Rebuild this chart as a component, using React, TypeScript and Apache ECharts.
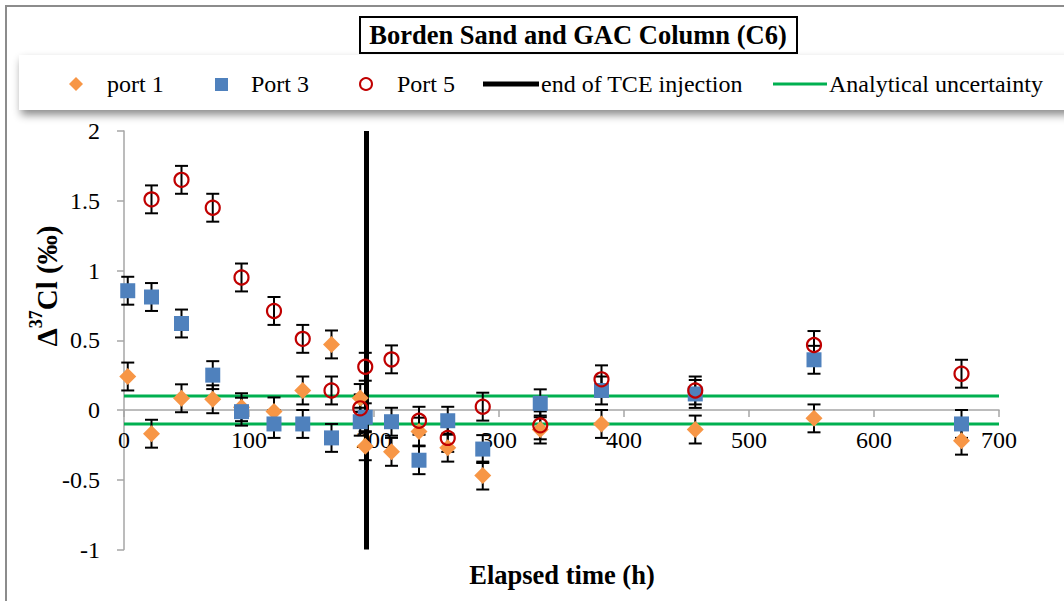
import React, { useEffect, useRef } from "react";
import * as echarts from "echarts";

// Sampling times (h) shared by the three ports
const hours = [3, 22, 46, 71, 94, 120, 143, 166, 189, 193, 214, 236, 259, 287, 333, 382, 457, 552, 670];

// Δ37Cl (‰) per port; null where the port was not sampled
const port1 = [0.24, -0.17, 0.084, 0.077, 0.02, -0.01, 0.14, 0.47, 0.086, -0.26, -0.3, -0.155, -0.27, -0.47, -0.14, -0.1, -0.14, -0.06, -0.22];
const port3 = [0.855, 0.81, 0.62, 0.25, -0.012, -0.1, -0.1, -0.2, -0.084, -0.052, -0.084, -0.36, -0.077, -0.28, 0.048, 0.14, 0.115, 0.36, -0.1];
const port5 = [null, 1.51, 1.65, 1.45, 0.95, 0.71, 0.51, 0.14, 0.012, 0.31, 0.363, -0.077, -0.2, 0.024, -0.11, 0.22, 0.14, 0.466, 0.26];

// Analytical error on each measurement (‰)
const measurementError = 0.1;

// Analytical uncertainty band (‰) and time span it is drawn over (h)
const uncertaintyBand = [0.1, -0.1];
const bandSpan = [0, 700];

// End of TCE injection (h)
const injectionEnd = 194;

// Axis ranges
const yTicks = { min: -1, max: 2, interval: 0.5 };
const xTicks = { min: 0, max: 700, interval: 100 };

const SERIF = "Liberation Serif";
const ORANGE = "#F79646";
const BLUE = "#4F81BD";
const RED = "#C00000";
const GREEN = "#00B050";
const AXIS_GRAY = "#A6A6A6";

const GRID = { left: 124, right: 65, top: 131, bottom: 51.5 };
const CHART_H = 601;

function points(values: (number | null)[]) {
  const out: number[][] = [];
  values.forEach((v, i) => {
    if (v !== null) out.push([hours[i], v]);
  });
  return out;
}

function errorRows(values: (number | null)[]) {
  return points(values).map(([t, v]) => [t, v - measurementError, v + measurementError]);
}

function renderErrorBar(_params: any, api: any) {
  const t = api.value(0);
  const lo = api.coord([t, api.value(1)]);
  const hi = api.coord([t, api.value(2)]);
  const half = 6.5;
  const style = { stroke: "#000", lineWidth: 2 };
  return {
    type: "group",
    children: [
      { type: "line", shape: { x1: lo[0], y1: lo[1], x2: hi[0], y2: hi[1] }, style },
      { type: "line", shape: { x1: lo[0] - half, y1: lo[1], x2: lo[0] + half, y2: lo[1] }, style },
      { type: "line", shape: { x1: hi[0] - half, y1: hi[1], x2: hi[0] + half, y2: hi[1] }, style },
    ],
  };
}

function errorSeries(values: (number | null)[]) {
  return {
    type: "custom",
    renderItem: renderErrorBar,
    data: errorRows(values),
    encode: { x: 0, y: [1, 2] },
    z: 3,
    silent: true,
  };
}

function legendText(x: number, text: string) {
  return {
    type: "text",
    x,
    y: 84,
    style: { text, fontFamily: SERIF, fontSize: 24, fill: "#000", align: "left", verticalAlign: "middle" },
  };
}

export default function App() {
  const ref = useRef<HTMLDivElement>(null);

  useEffect(() => {
    if (!ref.current) return;
    const chart = echarts.init(ref.current, null, { renderer: "svg" });

    // lift the time axis from the bottom of the grid up to Δ37Cl = 0
    const plotHeight = CHART_H - GRID.top - GRID.bottom;
    const zeroLift = (plotHeight * (0 - yTicks.min)) / (yTicks.max - yTicks.min);

    const option: any = {
      animation: false,
      backgroundColor: "#fff",
      grid: { ...GRID, containLabel: false },
      xAxis: {
        type: "value",
        min: xTicks.min,
        max: xTicks.max,
        interval: xTicks.interval,
        position: "bottom",
        offset: -zeroLift,
        axisLine: { show: true, onZero: false, lineStyle: { color: AXIS_GRAY, width: 1.5 } },
        axisTick: { show: true, length: 7, lineStyle: { color: AXIS_GRAY, width: 1.5 } },
        axisLabel: { fontFamily: SERIF, fontSize: 24, color: "#000", margin: 18 },
        splitLine: { show: false },
        z: 1,
      },
      yAxis: {
        type: "value",
        min: yTicks.min,
        max: yTicks.max,
        interval: yTicks.interval,
        axisLine: { show: true, onZero: false, lineStyle: { color: AXIS_GRAY, width: 1.5 } },
        axisTick: { show: true, length: 7, lineStyle: { color: AXIS_GRAY, width: 1.5 } },
        axisLabel: { fontFamily: SERIF, fontSize: 24, color: "#000", margin: 24 },
        splitLine: { show: false },
      },
      series: [
        ...uncertaintyBand.map((level) => ({
          type: "line",
          data: bandSpan.map((t) => [t, level]),
          symbol: "none",
          lineStyle: { color: GREEN, width: 3 },
          z: 2,
          silent: true,
        })),
        {
          type: "line",
          data: [
            [injectionEnd, yTicks.min],
            [injectionEnd, yTicks.max],
          ],
          symbol: "none",
          lineStyle: { color: "#000", width: 5 },
          z: 2,
          silent: true,
        },
        errorSeries(port1),
        errorSeries(port3),
        errorSeries(port5),
        {
          name: "port 1",
          type: "scatter",
          data: points(port1),
          symbol: "diamond",
          symbolSize: [17, 17],
          itemStyle: { color: ORANGE, opacity: 1 },
          z: 4,
          silent: true,
        },
        {
          name: "Port 3",
          type: "scatter",
          data: points(port3),
          symbol: "rect",
          symbolSize: 15,
          itemStyle: { color: BLUE, opacity: 1 },
          z: 5,
          silent: true,
        },
        {
          name: "Port 5",
          type: "scatter",
          data: points(port5),
          symbol: "circle",
          symbolSize: 14,
          itemStyle: { color: "rgba(0,0,0,0)", borderColor: RED, borderWidth: 2.2, opacity: 1 },
          z: 6,
          silent: true,
        },
      ],
      graphic: [
        // outer chart frame
        {
          type: "rect",
          shape: { x: 6, y: 6, width: 1200, height: 700 },
          style: { fill: "none", stroke: "#8C8C8C", lineWidth: 2 },
          silent: true,
        },
        // title box
        {
          type: "rect",
          shape: { x: 360, y: 17, width: 437, height: 36 },
          style: { fill: "#fff", stroke: "#000", lineWidth: 2 },
        },
        {
          type: "text",
          x: 578,
          y: 35,
          style: {
            text: "Borden Sand and GAC Column (C6)",
            fontFamily: SERIF,
            fontSize: 26.5,
            fontWeight: "bold",
            fill: "#000",
            align: "center",
            verticalAlign: "middle",
          },
        },
        // legend panel with drop shadow
        {
          type: "rect",
          shape: { x: 19, y: 55, width: 1100, height: 55 },
          style: {
            fill: "#fff",
            shadowBlur: 8,
            shadowOffsetX: 2,
            shadowOffsetY: 5,
            shadowColor: "rgba(0,0,0,0.45)",
          },
        },
        {
          type: "polygon",
          shape: { points: [[76, 77], [83, 84], [76, 91], [69, 84]] },
          style: { fill: ORANGE },
        },
        legendText(107, "port 1"),
        {
          type: "rect",
          shape: { x: 215, y: 78, width: 13, height: 13 },
          style: { fill: BLUE },
        },
        legendText(251, "Port 3"),
        {
          type: "circle",
          shape: { cx: 366, cy: 84, r: 6 },
          style: { fill: "none", stroke: RED, lineWidth: 2 },
        },
        legendText(397, "Port 5"),
        {
          type: "line",
          shape: { x1: 483, y1: 84, x2: 539, y2: 84 },
          style: { stroke: "#000", lineWidth: 5 },
        },
        legendText(541, "end of TCE injection"),
        {
          type: "line",
          shape: { x1: 773, y1: 84, x2: 827, y2: 84 },
          style: { stroke: GREEN, lineWidth: 3 },
        },
        legendText(829, "Analytical uncertainty"),
        // axis titles
        {
          type: "text",
          x: 562,
          y: 575,
          style: {
            text: "Elapsed time (h)",
            fontFamily: SERIF,
            fontSize: 26.5,
            fontWeight: "bold",
            fill: "#000",
            align: "center",
            verticalAlign: "middle",
          },
        },
        {
          type: "text",
          x: 44,
          y: 286,
          rotation: Math.PI / 2,
          style: {
            text: "{m|Δ}{s|37}{m|Cl (‰)}",
            fontFamily: SERIF,
            fill: "#000",
            align: "center",
            verticalAlign: "middle",
            rich: {
              m: { fontFamily: SERIF, fontSize: 29, fontWeight: "bold", lineHeight: 34, verticalAlign: "bottom" },
              s: { fontFamily: SERIF, fontSize: 18, fontWeight: "bold", lineHeight: 20, verticalAlign: "top" },
            },
          },
        },
      ],
    };

    chart.setOption(option);
    return () => chart.dispose();
  }, []);

  return (
    <div
      ref={ref}
      style={{ position: "fixed", left: 0, top: 0, width: 1064, height: 601, background: "#fff" }}
    />
  );
}
